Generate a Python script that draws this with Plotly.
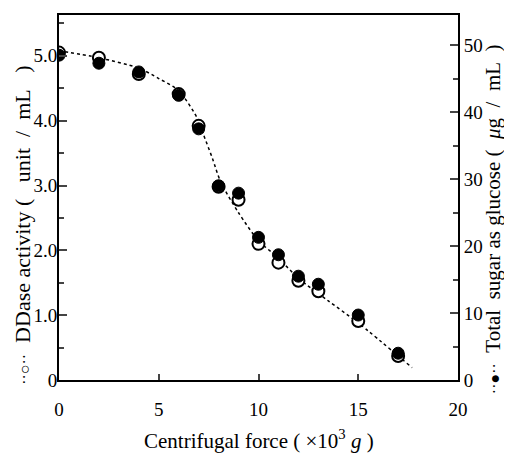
import plotly.graph_objects as go

# Data
force = [0, 2, 4, 6, 7, 8, 9, 10, 11, 12, 13, 15, 17]
ddase = [5.05, 4.97, 4.72, 4.41, 3.92, 2.98, 2.78, 2.10, 1.81, 1.53, 1.37, 0.91, 0.37]
sugar = [48.5, 47.3, 46.0, 42.5, 37.5, 29.0, 27.9, 21.3, 18.7, 15.5, 14.3, 9.7, 4.0]

# dotted fitted curve (left-axis units)
curve_x = [0, 2, 4, 5, 6, 7, 7.25, 7.7, 8.1, 9, 10, 11, 12, 13.5, 15, 17.7]
curve_y = [5.08, 4.97, 4.81, 4.65, 4.46, 4.0, 3.78, 3.41, 3.06, 2.58, 2.15, 1.88, 1.57, 1.22, 0.88, 0.19]

x_ticks = [0, 5, 10, 15, 20]
left_ticks = [0, 1, 2, 3, 4, 5]
left_labels = ["0", "1.0", "2.0", "3.0", "4.0", "5.0"]
right_ticks = [0, 10, 20, 30, 40, 50]
right_labels = ["0", "10", "20", "30", "40", "50"]

FONT = "Liberation Serif"
NB = "\u00a0"

fig = go.Figure()
fig.add_trace(go.Scatter(x=curve_x, y=curve_y, mode="lines",
                         line=dict(color="black", width=1.5, dash="dot", shape="spline", smoothing=0.8),
                         hoverinfo="skip", showlegend=False))
fig.add_trace(go.Scatter(x=force, y=ddase, mode="markers",
                         marker=dict(symbol="circle", size=12, color="white",
                                     line=dict(color="black", width=2)),
                         showlegend=False))
fig.add_trace(go.Scatter(x=force, y=sugar, mode="markers", yaxis="y2",
                         marker=dict(symbol="circle", size=12, color="black",
                                     line=dict(color="black", width=1)),
                         showlegend=False))

left_title = ("<span style='font-size:16px'>\u00b7\u00b7\u25cb\u00b7\u00b7</span>" + NB * 2 +
              "DDase activity (" + NB * 3 + "unit" + NB * 2 + "/" + NB * 2 + "mL" + NB * 3 + ")")
right_title = ("<span style='font-size:16px'>\u00b7\u00b7\u25cf\u00b7\u00b7</span>" + NB * 2 +
               "Total" + NB * 2 + "sugar as glucose (" + NB * 2 + "<i>\u03bc</i>g" + NB + " / " + NB + "mL" + NB + " )")

fig.update_layout(
    width=500, height=446,
    margin=dict(l=51, r=50, t=7, b=74),
    paper_bgcolor="white", plot_bgcolor="white",
    font=dict(family=FONT, size=19, color="black"),
    xaxis=dict(range=[0, 20], tickvals=x_ticks, ticks="inside", ticklen=6, tickwidth=1.5,
               showline=True, linecolor="black", linewidth=2, mirror=True, automargin=False,
               showgrid=False, zeroline=False, ticklabelstandoff=11,
               tickfont=dict(family=FONT, size=19)),
    yaxis=dict(range=[0, 5.63], tickvals=left_ticks, ticktext=left_labels,
               ticks="inside", ticklen=8, tickwidth=1.5, automargin=False,
               ticklabelstandoff=-4,
               minor=dict(ticks="inside", dtick=0.5, ticklen=5, tickwidth=1.5),
               showline=True, linecolor="black", linewidth=2,
               showgrid=False, zeroline=False, tickfont=dict(family=FONT, size=19)),
    yaxis2=dict(range=[0, 54.5], tickvals=right_ticks, ticktext=right_labels,
                overlaying="y", side="right", automargin=False,
                ticks="inside", ticklen=8, tickwidth=1.5,
                minor=dict(ticks="inside", dtick=5, ticklen=5, tickwidth=1.5),
                showline=True, linecolor="black", linewidth=2,
                showgrid=False, zeroline=False, tickfont=dict(family=FONT, size=19)),
    annotations=[
        dict(text="Centrifugal force (" + NB + "\u00d710<sup>3</sup> <i>g</i> )",
             xref="paper", yref="paper",
             x=0.5, y=-0.164, xanchor="center", yanchor="middle", showarrow=False,
             font=dict(family=FONT, size=21)),
        dict(text=left_title,
             xref="paper", yref="paper", x=-0.1266, y=0.425, textangle=-90,
             xanchor="left", yanchor="middle", showarrow=False,
             font=dict(family=FONT, size=22)),
        dict(text=right_title,
             xref="paper", yref="paper", x=1.088, y=0.441, textangle=-90,
             xanchor="center", yanchor="middle", showarrow=False,
             font=dict(family=FONT, size=21)),
    ],
)

fig.write_html("out.html")
